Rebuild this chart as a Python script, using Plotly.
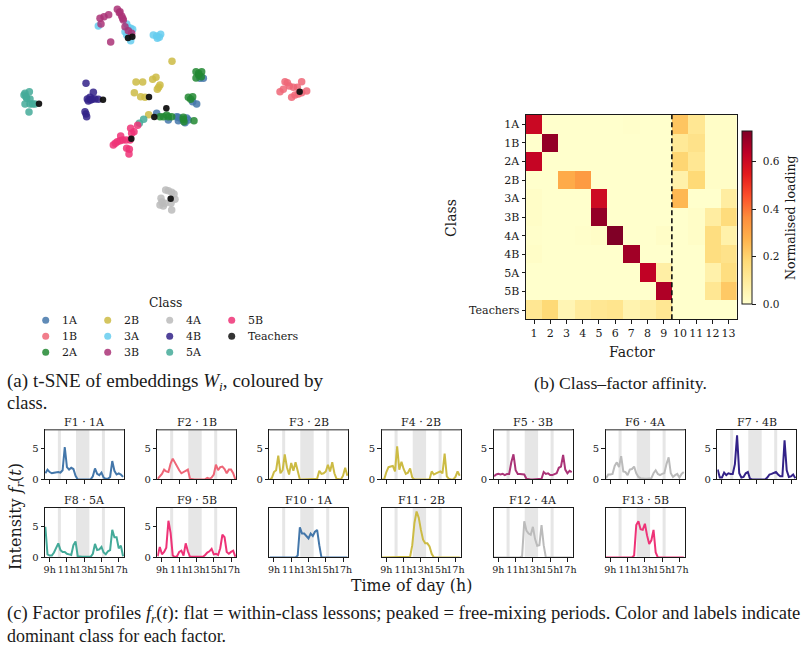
import plotly.graph_objects as go

W, H = 805, 649
SERIF = "DejaVu Serif"
TIMES = "Liberation Serif"
INK = "#1a1a1a"

classes = ["1A", "1B", "2A", "2B", "3A", "3B", "4A", "4B", "5A", "5B"]
class_colors = ["#4477aa", "#ee6677", "#228833", "#ccbb44", "#66ccee",
                "#aa3377", "#bbbbbb", "#332288", "#44aa99", "#ee3377"]
teacher_color = "#111111"

# t-SNE embedding coordinates per class
tsne_1A_x = [9, 10, 8, 6.8, -4, 2.5, 2.5, 5.5, 4.5, -.5, 2, 3.5, 5]
tsne_1A_y = [9.5, 9.5, 1.8, 2.5, -1, -2.2, -3.2, -3, -3.8, -3, -2, -2.8, -2.4]
tsne_1B_x = [34.5, 35.2, 39.5, 38.2, 37, 33, 34, 41, 39.5, 36.5, 37.5, 38.5, 35.8]
tsne_1B_y = [8.5, 8.2, 8.5, 6.8, 6.8, 5.5, 6.2, 5.7, 5.2, 3.8, 4.5, 4.8, 7.2]
tsne_2A_x = [7.8, 9.5, 7.8, 9.4, 5.5, 6.8, 6.2, 7.2, -2, -.5, .5, -3, -1, 4, 4, 4.2, 8.6, 8.6]
tsne_2A_y = [11.5, 11.5, 9.6, 10, 3.8, 4, 3.2, -3.2, -2, -2, -2, -2, -1.5, -2.8, -2.2, -3.5, 10.5, 11]
tsne_2B_x = [.6, -10.2, -8.2, -5.2, -4.2, -3, -3.8, -10.7, -8.8, -7.5, -6.4, -3.4]
tsne_2B_y = [14.6, 8.4, 8.4, 9.2, 9.8, 7.5, 6.2, 5.2, 4, 3.8, -1.4, 6.8]
tsne_3A_x = [-21.5, -13, -11.8, -11.2, -13.5, -13, -11.8, -12.2, -5, -4, -2.8, -3.2, -3.8, -12.5, -12]
tsne_3A_y = [25.2, 25.8, 24.5, 24.2, 23.5, 22.5, 20.8, 21.8, 22.5, 22.2, 22.7, 21.8, 21.5, 24.8, 23]
tsne_3B_x = [-15.8, -15.2, -14.5, -14, -15, -13.5, -12.5, -11.5, -21, -19.8, -18.4, -20.7, -17.8, -14.2]
tsne_3B_y = [30.2, 29.2, 28.2, 27, 29.5, 25, 23.8, 23, 27.5, 28, 28.6, 25.8, 20.4, 27.5]
tsne_4A_x = [-1.3, .5, 1.5, -2.7, -3, -2, -1.5, .5, .3, -.5, -2.4, 1.2]
tsne_4A_y = [-24, -24.7, -26.8, -26.5, -28.5, -28.8, -28, -30, -28, -24.2, -27.6, -25.2]
tsne_4B_x = [-25.2, -23, -24.8, -24, -22.5, -21.5, -24.5, -25.5, -25.2, -25, -23.4, -23.8]
tsne_4B_y = [8, 5.3, 3.3, 3.8, 3.3, 3.2, 2.7, -.5, -1.2, -2, 3.2, 3]
tsne_5A_x = [-43.5, -42.2, -43.8, -42, -43, -43.5, -42, -40.5, -42.3, -7.9, -9.2, -43.2, -41.2]
tsne_5A_y = [5, 5.5, 4.5, 3.3, 3.5, 1.8, 1.8, 1.8, -.6, -2.8, -4, 4, 1.8]
tsne_5B_x = [-11.8, -9.7, -10.8, -11.5, -14.8, -15.8, -17, -14.2, -13, -12.2, -12.3, -13.2, -12, -16.4, -15]
tsne_5B_y = [-5.5, -4.6, -6.5, -7, -7.8, -9.5, -10.5, -9, -11.5, -11.8, -13.2, -9, -9, -10, -9.2]
tsne_teachers_x = [-12.6, -11.3, -6.3, -1.1, -4.7, -39.3, -20.1, -11.6, 38.9, .2]
tsne_teachers_y = [21.6, 22, 3.9, .5, -2.1, 1.9, 3.1, -8.6, 5.5, -26.6]

tsne_x = [tsne_1A_x, tsne_1B_x, tsne_2A_x, tsne_2B_x, tsne_3A_x,
          tsne_3B_x, tsne_4A_x, tsne_4B_x, tsne_5A_x, tsne_5B_x]
tsne_y = [tsne_1A_y, tsne_1B_y, tsne_2A_y, tsne_2B_y, tsne_3A_y,
          tsne_3B_y, tsne_4A_y, tsne_4B_y, tsne_5A_y, tsne_5B_y]

# Class-by-factor loadings
factor_labels = [str(i) for i in range(1, 14)]
affinity_rows = ["1A", "1B", "2A", "2B", "3A", "3B", "4A", "4B", "5A", "5B", "Teachers"]
load_1A = [.61, 0, 0, 0, 0, 0, .005, 0, 0, .23, .12, .01, .01]
load_1B = [0, .70, 0, 0, 0, 0, 0, 0, 0, .11, .14, .01, .01]
load_2A = [.62, 0, 0, 0, 0, 0, 0, 0, 0, .19, .12, .01, .01]
load_2B = [0, 0, .29, .33, 0, 0, 0, 0, 0, .07, .18, .01, .01]
load_3A = [.01, 0, 0, 0, .60, 0, 0, 0, 0, .26, 0, 0, .09]
load_3B = [.01, 0, 0, 0, .70, 0, 0, 0, 0, 0, .01, .09, .17]
load_4A = [.005, 0, 0, .005, .01, .73, 0, 0, .01, 0, .01, .16, .07]
load_4B = [.01, 0, 0, 0, 0, 0, .68, 0, 0, 0, 0, .16, .14]
load_5A = [0, 0, 0, 0, 0, 0, 0, .63, .08, 0, 0, .07, .16]
load_5B = [0, 0, 0, 0, 0, 0, 0, 0, .66, 0, 0, .12, .22]
load_T = [.12, .18, .05, .10, .12, .13, .06, .08, .12, 0, 0, 0, 0]
affinity = [load_1A, load_1B, load_2A, load_2B, load_3A, load_3B,
            load_4A, load_4B, load_5A, load_5B, load_T]
ylorrd = ["#ffffcc", "#ffeda0", "#fed976", "#feb24c", "#fd8d3c",
          "#fc4e2a", "#e31a1c", "#bd0026", "#800026"]

# Factor activity over the day, quarter-hourly from 8:30
hours = [8.5 + 0.25 * i for i in range(37)]
f1 = [1.0, 1.6, 1.2, 1.0, 1.1, 1.2, 1.2, 1.1, 1.5, 5.3, 2.0, 1.6, 1.9, 1.7, .6, 0, 0, 0, 0, 0, 0, 0, .5, 1.8, .9, .7, 1.1, .3, .1, .1, .4, 3.0, 1.4, .8, 1.0, .8, .4]
f2 = [.1, .5, .9, 1.6, 1.3, 1.2, 2.6, 3.4, 2.7, 2.2, 1.5, 1.0, 1.2, 1.4, 1.6, .1, 0, 0, 0, 0, 0, 0, 0, .25, .1, .3, .8, 2.4, 1.5, 2.0, 2.1, 1.7, 1.0, 1.6, 1.6, 1.0, 0]
f3 = [0, .2, 1.2, 1.5, 3.9, 1.0, 1.5, 4.1, 2.0, .8, 2.7, 1.4, 2.8, 1.2, 0, 0, 0, 0, 0, 0, 0, 0, .1, 1.4, .9, 1.0, 1.3, 2.4, 1.3, 2.8, 1.0, .1, 0, 0, .6, 1.9, .6]
f4 = [0, 0, 1.2, 2.0, 2.1, 2.2, 1.3, 5.4, 1.6, 2.9, 1.7, .9, 1.1, 1.8, .3, 0, 0, 0, 0, 0, 0, 0, 0, 1.3, .8, 1.0, 1.1, 1.3, 1.0, 4.2, .5, .1, 0, 0, .4, 1.3, .6]
f5 = [.5, .8, .9, .8, .9, .7, .9, .9, 2.8, 4.1, 1.5, .9, .9, .9, .8, .1, 0, 0, 0, 0, 0, 0, .1, 1.2, .9, 1.0, .7, .7, .9, 1.0, 1.9, 2.1, 4.0, 1.6, 1.0, 1.4, 1.2]
f6 = [.2, .8, .8, .9, 2.2, 2.8, 2.0, 3.8, 1.3, 1.2, .7, 1.6, 1.7, 2.1, 1.0, .4, .2, .1, .1, .1, .2, .2, 1.0, 1.5, .9, .7, .9, 1.0, 2.5, 3.6, 1.0, .4, .7, .9, .3, .9, 1.2]
f7 = [1.6, .3, .3, 1.1, .7, 1.0, .9, .9, 2.5, 7.2, 1.0, .3, .4, 1.0, 1.2, .1, 0, 0, 0, 0, 0, 0, 0, .3, .8, .9, 1.0, 1.2, .8, .5, .5, 6.4, 1.5, .4, .5, .8, .2]
f8 = [5.0, .5, .3, .3, .8, 1.7, 2.3, 1.2, .9, .9, .6, .5, .4, 2.0, 2.6, .2, .1, .1, .1, .1, .1, .1, .6, 2.2, 1.2, 1.3, 1.7, .8, .5, 1.0, 1.2, 4.5, 3.3, 3.3, 1.5, 1.9, .2]
f9 = [.2, 1.7, .5, .9, 1.6, 6.0, 4.0, .3, .05, .2, .9, 1.1, .3, 2.3, 1.0, .1, .1, .1, .1, .1, .1, .1, .4, .8, 1.0, 1.4, .5, .6, .4, 1.5, 3.7, 3.3, .9, .6, .9, 1.1, .1]
f10 = [0, 0, 0, 0, 0, 0, 0, 0, .1, .1, 0, 0, 0, .3, 4.9, 3.9, 3.9, 3.5, 3.1, 3.9, 3.5, 4.2, 4.5, 2.0, 0, 0, 0, 0, 0, 0, 0, 0, 0, 0, 0, 0, 0]
f11 = [0, 0, 0, 0, 0, 0, 0, 0, 0, 0, 0, 0, 0, .1, 2.0, 5.6, 7.5, 6.5, 4.5, 2.9, 2.3, 2.3, 1.8, .6, 0, 0, 0, 0, 0, 0, 0, 0, 0, 0, 0, 0, 0]
f12 = [0, 0, 0, 0, 0, 0, 0, 0, 0, 0, 0, 0, 0, .2, 5.9, 4.4, 3.9, 3.7, 5.0, 3.0, 1.9, 2.0, 5.3, 2.0, 0, 0, 0, 0, 0, 0, 0, 0, 0, 0, 0, 0, 0]
f13 = [0, 0, 0, 0, 0, 0, 0, 0, 0, 0, 0, 0, 0, .3, 5.3, 5.9, 4.6, 4.5, 5.5, 3.6, 2.2, 2.8, 4.5, .8, 0, 0, 0, 0, 0, 0, 0, 0, 0, 0, 0, 0, 0]
profiles = [f1, f2, f3, f4, f5, f6, f7, f8, f9, f10, f11, f12, f13]
dominant = ["1A", "1B", "2B", "2B", "3B", "4A", "4B", "5A", "5B", "1A", "2B", "4A", "5B"]

break_starts = [9.95, 12.05, 15.05]
break_ends = [10.3, 13.6, 15.4]
hour_ticks = [9, 11, 13, 15, 17]
hour_labels = ["9h", "11h", "13h", "15h", "17h"]


def fx(px):
    return px / W


def fy(py):
    return 1 - py / H


def span_x(a, b):
    return [fx(a), fx(b)]


def span_y(top, bottom):
    return [fy(bottom), fy(top)]


fig = go.Figure()
annotations = []
shapes = []
axes = {}


def note(x, y, text, size, family=SERIF, anchor="center", angle=0):
    annotations.append(dict(x=fx(x), y=fy(y), xref="paper", yref="paper", text=text,
                            showarrow=False, xanchor=anchor, yanchor="middle", textangle=angle,
                            font=dict(family=family, size=size, color=INK),
                            borderpad=0, borderwidth=0))


hidden = dict(visible=False, showgrid=False, zeroline=False)

# Embedding scatter
axes["xaxis"] = dict(domain=span_x(0, 340), range=[-51, 51], **hidden)
axes["yaxis"] = dict(domain=span_y(0, 220), range=[-33, 33], **hidden)
for name, color, xs, ys in zip(classes, class_colors, tsne_x, tsne_y):
    fig.add_trace(go.Scatter(x=xs, y=ys, mode="markers", name=name, showlegend=False,
                             marker=dict(size=7.5, color=color, opacity=0.85, line=dict(width=0))))
fig.add_trace(go.Scatter(x=tsne_teachers_x, y=tsne_teachers_y, mode="markers", name="Teachers",
                         showlegend=False,
                         marker=dict(size=6.5, color=teacher_color, opacity=0.95, line=dict(width=0))))

# Key for the scatter: column-first grid of markers and names
key_names = classes + ["Teachers"]
key_colors = class_colors + [teacher_color]
key_cols = [0, 0, 0, 1, 1, 1, 2, 2, 2, 3, 3]
key_rows = [0, 1, 2, 0, 1, 2, 0, 1, 2, 0, 1]
axes["xaxis2"] = dict(domain=span_x(0, 340), range=[-45.7 / 62, (340 - 45.7) / 62], **hidden)
axes["yaxis2"] = dict(domain=span_y(300, 364), range=[(364 - 320.3) / 16, (300 - 320.3) / 16], **hidden)
fig.add_trace(go.Scatter(x=key_cols, y=key_rows, xaxis="x2", yaxis="y2", mode="markers",
                         showlegend=False, hoverinfo="skip",
                         marker=dict(size=7, color=key_colors, opacity=0.85, line=dict(width=0))))
for name, c, r in zip(key_names, key_cols, key_rows):
    annotations.append(dict(x=c, y=r, xref="x2", yref="y2", text=name, showarrow=False,
                            xanchor="left", yanchor="middle", xshift=14.5,
                            font=dict(family=SERIF, size=11, color=INK)))
note(165, 303, "Class", 12.3)

# Affinity heatmap
fig.add_trace(go.Heatmap(
    z=affinity, x=list(range(1, 14)), y=list(range(11)), xaxis="x3", yaxis="y3",
    zmin=0, zmax=0.73, xgap=0, ygap=0,
    colorscale=[[i / 8, c] for i, c in enumerate(ylorrd)],
    colorbar=dict(x=fx(741.7), xanchor="left", xpad=0, ypad=0, y=fy(304), yanchor="bottom",
                  lenmode="fraction", len=(304 - 130.7) / H, thickness=9.5, thicknessmode="pixels",
                  outlinewidth=1, outlinecolor=INK, tickvals=[0, .2, .4, .6],
                  ticktext=["\u20020.0", "\u20020.2", "\u20020.4", "\u20020.6"], ticks="outside",
                  ticklen=3.5, tickwidth=1, tickcolor=INK,
                  tickfont=dict(family=SERIF, size=10.5, color=INK)),
))
axes["xaxis3"] = dict(domain=span_x(526, 736.7), range=[.5, 13.5], anchor="y3", tickvals=list(range(1, 14)),
                      ticktext=factor_labels, ticks="outside", ticklen=3.5, tickwidth=1, tickcolor=INK,
                      showline=True, mirror=True, linecolor=INK, linewidth=1, showgrid=False, zeroline=False,
                      tickfont=dict(family=SERIF, size=11, color=INK))
axes["yaxis3"] = dict(domain=span_y(115, 319.3), range=[10.5, -.5], anchor="x3", tickvals=list(range(11)),
                      ticktext=affinity_rows, ticks="outside", ticklen=3.5, tickwidth=1, tickcolor=INK,
                      showline=True, mirror=True, linecolor=INK, linewidth=1, showgrid=False, zeroline=False,
                      tickfont=dict(family=SERIF, size=11, color=INK))
shapes.append(dict(type="line", xref="x3", yref="y3 domain", x0=9.5, x1=9.5, y0=0, y1=1,
                   line=dict(color="#111111", width=1.6, dash="5px,3px"), layer="above"))
note(451, 218, "Class", 14, angle=-90)
note(631.7, 352, "Factor", 14)
note(790, 218, "Normalised loading", 12.5, angle=-90)

# Factor profile small multiples
panel_lefts = [45, 157.3, 269.3, 381.7, 493.7, 605.7, 717.3,
               45, 157.3, 269.3, 381.7, 493.7, 605.7]
panel_tops = [429.7] * 7 + [507.7] * 6
color_of = dict(zip(classes, class_colors))
for k, (values, cls) in enumerate(zip(profiles, dominant)):
    idx = k + 4
    left, top = panel_lefts[k], panel_tops[k]
    fig.add_trace(go.Scatter(x=hours, y=values, xaxis=f"x{idx}", yaxis=f"y{idx}", mode="lines",
                             showlegend=False, name=f"F{k + 1}",
                             line=dict(color=color_of[cls], width=2)))
    lower_row = k >= 7
    shows_y = k < 9
    axes[f"xaxis{idx}"] = dict(domain=span_x(left, left + 79), range=[8.46, 17.61], anchor=f"y{idx}",
                               tickvals=hour_ticks, ticktext=hour_labels, showticklabels=lower_row,
                               ticks="outside", ticklen=3.5, tickwidth=1, tickcolor=INK,
                               showline=True, mirror=True, linecolor=INK, linewidth=1,
                               showgrid=False, zeroline=False, tickangle=0,
                               tickfont=dict(family=SERIF, size=9.5, color=INK))
    axes[f"yaxis{idx}"] = dict(domain=span_y(top, top + 49.7), range=[0, 8.13], anchor=f"x{idx}",
                               tickvals=[0, 5] if shows_y else [], showticklabels=shows_y,
                               ticks="outside" if shows_y else "",
                               ticklen=3.5, tickwidth=1, tickcolor=INK,
                               showline=True, mirror=True, linecolor=INK, linewidth=1,
                               showgrid=False, zeroline=False,
                               tickfont=dict(family=SERIF, size=10, color=INK))
    for a, b in zip(break_starts, break_ends):
        shapes.append(dict(type="rect", xref=f"x{idx}", yref=f"y{idx} domain", x0=a, x1=b, y0=0, y1=1,
                           fillcolor="#e6e6e6", line=dict(width=0), layer="below"))
    if k < 6:
        # Softer upper edge on the first six panels
        shapes.append(dict(type="line", xref=f"x{idx} domain", yref=f"y{idx} domain", x0=0, x1=1, y0=1, y1=1,
                           line=dict(color="#6e6e6e", width=1.6), layer="above"))
    note(left + 39.5, top - 7, f"F{k + 1} · {cls}", 11)

note(16, 517, "Intensity <i>f<sub>r</sub></i>(<i>t</i>)", 16, angle=-90)
note(411.7, 585, "Time of day (h)", 15.8)

# Sub-figure captions
note(7, 382, "(a) t-SNE of embeddings <i>W<sub>i</sub></i>, coloured by", 19.1, TIMES, "left")
note(7, 403, "class.", 18.4, TIMES, "left")
note(620, 383, "(b) Class–factor affinity.", 17.7, TIMES)
note(7, 614, "(c) Factor profiles <i>f<sub>r</sub></i>(<i>t</i>): flat = within-class lessons; "
             "peaked = free-mixing periods. Color and labels indicate", 18.6, TIMES, "left")
note(7, 636, "dominant class for each factor.", 17.9, TIMES, "left")

fig.update_layout(width=W, height=H, autosize=False,
                  margin=dict(l=0, r=0, t=0, b=0, pad=0, autoexpand=False),
                  paper_bgcolor="white", plot_bgcolor="rgba(0,0,0,0)", showlegend=False,
                  annotations=annotations, shapes=shapes, **axes)
fig.write_html("out.html")
